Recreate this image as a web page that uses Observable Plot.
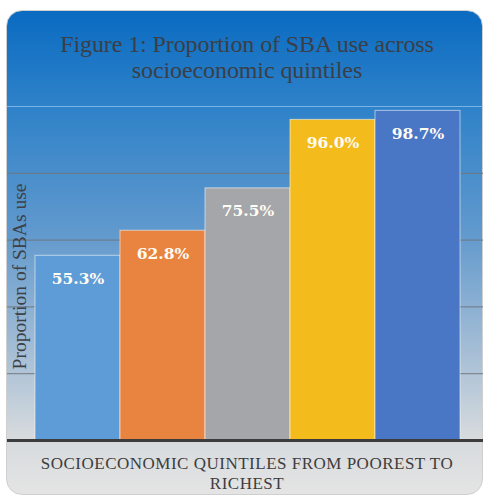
<!DOCTYPE html>
<html>
<head>
<meta charset="utf-8">
<script src="https://cdn.jsdelivr.net/npm/d3@7"></script>
<script src="https://cdn.jsdelivr.net/npm/@observablehq/plot@0.6"></script>
<style>
  html, body { margin: 0; padding: 0; background: #ffffff; }
  body { width: 486px; height: 497px; position: relative; overflow: hidden; }
  #frame {
    position: absolute; left: 6px; top: 10px; width: 477px; height: 485px;
    border: 1px solid #cfcfcf; border-radius: 16px; box-sizing: border-box;
    background: linear-gradient(to bottom, #0a6bc1 0%, #2f82c9 20%, #5f98cd 45%, #a9c0d6 72%, #d6dadd 88%, #e4e4e4 100%);
  }
  #title {
    position: absolute; left: 0; width: 494px; top: 31px; text-align: center;
    font-family: "Liberation Serif", serif; font-size: 24px; line-height: 26px;
    color: #3a3f47; letter-spacing: -0.1px;
  }
  #xlabel {
    position: absolute; left: 0; width: 494px; top: 454px; text-align: center;
    font-family: "Liberation Serif", serif; font-size: 17px; line-height: 20px;
    color: #3d3d3d; letter-spacing: 0.5px;
  }
  #chart { position: absolute; left: 0; top: 96px; }
</style>
</head>
<body>
<div id="frame"></div>
<div id="title">Figure 1: Proportion of SBA use across<br>socioeconomic quintiles</div>
<div id="chart"></div>
<div id="xlabel">SOCIOECONOMIC QUINTILES FROM POOREST TO<br>RICHEST</div>
<script>
// Skilled birth attendance by wealth quintile, poorest to richest
const quintiles = ["Poorest", "Poorer", "Middle", "Richer", "Richest"];
const sbaUse = [55.3, 62.8, 75.5, 96.0, 98.7];
const barColors = ["#5e9cd8", "#e8843f", "#a4a6a9", "#f4bb1d", "#4a76c6"];
const gridValues = [20, 40, 60, 80];
const yLabel = "Proportion of SBAs use";

const rows = quintiles.map((q, i) => ({quintile: q, value: sbaUse[i], color: barColors[i]}));

const chart = Plot.plot({
  width: 486,
  height: 350,
  marginTop: 10,
  marginBottom: 6,
  marginLeft: 7,
  marginRight: 3,
  style: {background: "transparent", overflow: "visible"},
  x: {domain: quintiles, range: [34, 461], padding: 0, axis: null},
  y: {domain: [0, 100], axis: null},
  marks: [
    Plot.ruleY(gridValues, {stroke: "#6f747a", strokeOpacity: 0.75, strokeWidth: 1.2}),
    Plot.ruleY([100], {stroke: "#8cc0ec", strokeOpacity: 0.8, strokeWidth: 1.2}),
    Plot.barY(rows, {x: "quintile", y: "value", fill: "color", stroke: "#ffffff", strokeOpacity: 0.55, strokeWidth: 1}),
    Plot.text(rows, {
      x: "quintile", y: "value", text: d => d.value.toFixed(1) + "%",
      dy: 23, fill: "#fffdf4", fontSize: 15.5, fontWeight: "bold",
      fontFamily: "DejaVu Serif, serif"
    }),
    Plot.ruleY([0], {stroke: "#3c3c3c", strokeWidth: 3}),
    Plot.text([yLabel], {
      text: d => d, frameAnchor: "left", textAnchor: "middle", rotate: -90, dx: 12, dy: 3,
      fill: "#3d4045", fontSize: 19.5, fontFamily: "Liberation Serif, serif"
    })
  ]
});
document.getElementById("chart").appendChild(chart);
</script>
</body>
</html>
